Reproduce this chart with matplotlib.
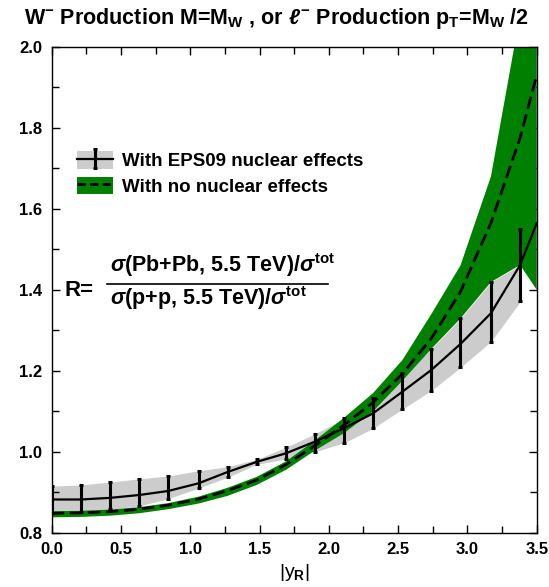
import matplotlib.pyplot as plt
from matplotlib.patches import Patch
from matplotlib.lines import Line2D
from matplotlib.ticker import MultipleLocator

plt.rcParams['font.family'] = ['Liberation Sans', 'DejaVu Sans']
plt.rcParams['font.weight'] = 'bold'
plt.rcParams['mathtext.fontset'] = 'custom'
plt.rcParams['mathtext.rm'] = 'Liberation Sans'
plt.rcParams['mathtext.it'] = 'Liberation Sans:italic'
plt.rcParams['mathtext.bf'] = 'Liberation Sans:bold'

# rapidity points with EPS09 error bars
y_r = [0.0, 0.21, 0.42, 0.63, 0.84, 1.06, 1.27, 1.48, 1.69, 1.90,
       2.11, 2.32, 2.53, 2.74, 2.95, 3.17, 3.38]
eps09 = [0.882, 0.882, 0.886, 0.893, 0.903, 0.922, 0.950, 0.975, 0.996, 1.025,
         1.058, 1.095, 1.148, 1.202, 1.266, 1.342, 1.461]
eps09_lo = [0.848, 0.852, 0.858, 0.866, 0.884, 0.910, 0.937, 0.969, 0.982, 1.000,
            1.022, 1.058, 1.105, 1.151, 1.208, 1.272, 1.372]
eps09_hi = [0.915, 0.918, 0.925, 0.933, 0.940, 0.953, 0.963, 0.981, 1.011, 1.044,
            1.082, 1.132, 1.195, 1.254, 1.329, 1.419, 1.550]
# grey uncertainty band
band_lo = eps09_lo[:-1] + [1.370]
band_hi = eps09_hi[:-1] + [1.461]

# curves run on to the right edge
y_line = y_r + [3.5]
eps09_line = eps09 + [1.564]
nonuc = [0.848, 0.849, 0.852, 0.858, 0.868, 0.883, 0.904, 0.930, 0.968, 1.015,
         1.066, 1.122, 1.192, 1.280, 1.395, 1.565, 1.775, 1.930]
nonuc_lo = [0.838, 0.839, 0.842, 0.848, 0.858, 0.872, 0.891, 0.918, 0.955, 1.003,
            1.046, 1.100, 1.175, 1.254, 1.329, 1.419, 1.461, 1.400]
nonuc_hi = [0.853, 0.854, 0.857, 0.863, 0.873, 0.889, 0.911, 0.938, 0.976, 1.028,
            1.084, 1.145, 1.226, 1.340, 1.460, 1.680, 2.080, 2.300]

grey = '#cccccc'
green = '#008000'

fig = plt.figure(figsize=(5.49, 5.87), dpi=100)
ax = fig.add_axes([0.0942, 0.0925, 0.8834, 0.8279])

ax.fill_between(y_r, band_lo, band_hi, color=grey, lw=0, zorder=1)
ax.fill_between(y_line, nonuc_lo, nonuc_hi, color=green, lw=0, zorder=2)
ax.plot(y_line, nonuc, color='k', lw=2.0, ls='--', dashes=(4.5, 2), zorder=3)
solid, = ax.plot(y_line, eps09_line, color='k', lw=1.6, zorder=4)
yerr = [[c - lo for c, lo in zip(eps09, eps09_lo)],
        [hi - c for c, hi in zip(eps09, eps09_hi)]]
err = ax.errorbar(y_r, eps09, yerr=yerr, fmt='none', ecolor='k',
                  elinewidth=2.2, capsize=1.5, capthick=2.2, zorder=5)

ax.set_xlim(0, 3.5)
ax.set_ylim(0.8, 2.0)
ax.xaxis.set_major_locator(MultipleLocator(0.5))
ax.xaxis.set_minor_locator(MultipleLocator(0.25))
ax.yaxis.set_major_locator(MultipleLocator(0.2))
ax.yaxis.set_minor_locator(MultipleLocator(0.1))
ax.xaxis.set_major_formatter('{x:.1f}')
ax.yaxis.set_major_formatter('{x:.1f}')
ax.tick_params(which='both', direction='in', top=True, right=True,
               width=1, labelsize=12, pad=7)
ax.tick_params(which='major', length=6)
ax.tick_params(which='minor', length=5)
for s in ax.spines.values():
    s.set_linewidth(1)

ax.set_xlabel(r'|y$_{\mathbf{R}}$|', fontsize=14, labelpad=3)

fig.text(0.503, 0.969,
         r'W$^{\mathbf{-}}$ Production M=M$_{\mathbf{W}}$ , or $\ell^{-}$ '
         r'Production p$_{\mathbf{T}}$=M$_{\mathbf{W}}$ /2',
         ha='center', va='center', fontsize=15.5)

# legend
h1 = (Patch(facecolor=grey, edgecolor='none'), solid, err)
h2 = (Patch(facecolor=green, edgecolor='none'),
      Line2D([], [], color='k', lw=2.0, ls='--', dashes=(3, 1.5)))
ax.legend([h1, h2], ['With EPS09 nuclear effects', 'With no nuclear effects'],
          loc='upper left', bbox_to_anchor=(0.053, 0.785), frameon=False,
          fontsize=13.5, handlelength=1.9, handleheight=1.05,
          handletextpad=0.5, labelspacing=0.35, borderpad=0, borderaxespad=0)

# ratio definition
ax.text(0.027, 0.488, 'R=', transform=ax.transAxes, fontsize=16,
        va='baseline', ha='left')
ax.text(0.120, 0.536, r'$\sigma$(Pb+Pb, 5.5 TeV)/$\sigma^{\mathrm{tot}}$',
        transform=ax.transAxes, fontsize=15.5, va='baseline', ha='left')
ax.text(0.120, 0.468, r'$\sigma$(p+p, 5.5 TeV)/$\sigma^{\mathrm{tot}}$',
        transform=ax.transAxes, fontsize=15.5, va='baseline', ha='left')
ax.plot([0.113, 0.570], [0.512, 0.512], color='k', lw=1.2,
        transform=ax.transAxes, clip_on=False)

fig.savefig('out.png', dpi=100)
